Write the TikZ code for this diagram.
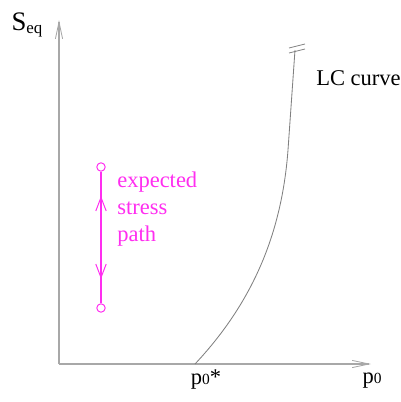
\documentclass[tikz,border=0pt]{standalone}
\usepackage{fontspec}
\setmainfont{Liberation Serif}
\usetikzlibrary{arrows.meta}
\definecolor{axisgray}{HTML}{A8A8A8}
\definecolor{curvegray}{HTML}{808080}
\definecolor{pathpink}{HTML}{FF2EF0}

\begin{document}
\begin{tikzpicture}[x=0.025cm, y=-0.025cm,
  axis/.style={line width=1.1pt, axisgray,
               -{Straight Barb[length=4.2mm, width=1.8mm, line width=0.6pt]}},
  lccurve/.style={line width=0.6pt, curvegray},
  endpoint/.style={circle, draw=pathpink, line width=0.7pt, minimum size=2.1mm, inner sep=0pt},
  pathline/.style={line width=0.8pt, pathpink},
  patharrow/.style={line width=0.8pt, pathpink,
                    -{Straight Barb[length=3.4mm, width=2.6mm, line width=0.7pt]}},
  label/.style={font=\fontsize{16}{19}\selectfont, inner sep=0pt},
  pinklabel/.style={label, text=pathpink, align=left, anchor=north west},
]
\useasboundingbox (0,0) rectangle (401,402);

\coordinate (origin) at (59,364);
\coordinate (ytip) at (59,20);
\coordinate (xtip) at (371,364);

\draw[axis] (origin) -- (ytip);
\draw[axis] (origin) -- (xtip);

\node[label, font=\fontsize{19}{22}\selectfont] (seq) at (27,25) {S\raisebox{-0.25ex}{\fontsize{12}{14}\selectfont eq}};
\node[label] (pzerostar) at (206,380) {p{\fontsize{11}{13}\selectfont 0}*};
\node[label] (pzero) at (372,381) {p{\fontsize{11}{13}\selectfont 0}};

\coordinate (lcfoot) at (195,364);
\coordinate (lcknee) at (288,150);
\coordinate (lctop) at (295,50);
\draw[lccurve] (lcfoot) .. controls (255,300) and (282,230) .. (lcknee) -- (lctop);
\draw[lccurve] (289,48) -- (305,44);
\draw[lccurve] (289,53) -- (305,49);
\node[label, anchor=west] (lclabel) at (316,78) {LC curve};

\node[endpoint] (top) at (101,167) {};
\node[endpoint] (bottom) at (101,308) {};
\coordinate (mid) at (101,237);
\coordinate (uptip) at (101,196);
\coordinate (downtip) at (101,279);
\draw[pathline] (top) -- (bottom);
\draw[patharrow] (mid) -- (uptip);
\draw[patharrow] (mid) -- (downtip);

\node[pinklabel] (pathtext) at (117,172) {expected\\stress\\path};

\end{tikzpicture}
\end{document}
